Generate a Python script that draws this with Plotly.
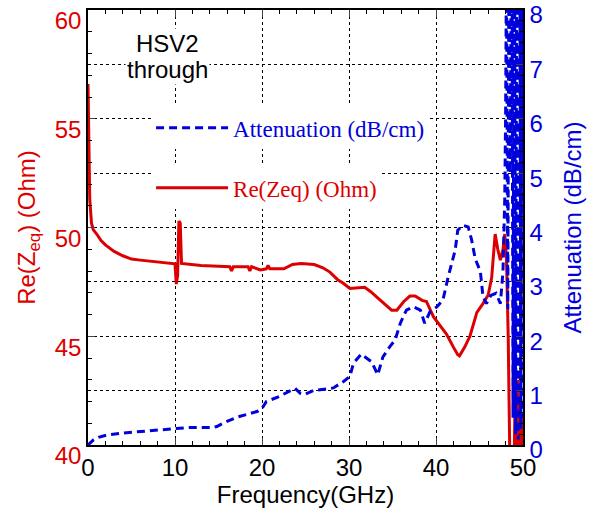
import plotly.graph_objects as go

# ---- data ----
freq_z = [0.0, 0.1, 0.2, 0.4, 0.6, 1.0, 1.5, 2.0, 2.5, 3.0, 4.0, 5.0, 6.0, 7.0, 8.0, 9.0, 10.0,
          10.15, 10.3, 10.45, 10.6, 10.75, 12.0, 13.0, 15.0, 16.3, 16.5, 16.7, 18.4, 18.6, 18.8,
          19.8, 20.5, 20.7, 20.9, 22.5, 23.5, 24.5, 26.0, 27.0, 27.8, 28.7, 29.3, 30.1, 31.8,
          32.5, 33.2, 34.0, 34.9, 35.5, 36.3, 37.0, 37.6, 38.4, 38.9, 39.7, 40.5, 41.2, 42.0,
          42.5, 42.7, 43.3, 43.9, 44.7, 45.4, 46.0, 46.4, 46.8, 47.1, 47.4, 47.7, 47.9, 48.1,
          48.3, 48.5, 48.9, 49.1, 49.25, 49.4, 49.55, 49.7, 49.85, 50.0]
re_zeq = [56.6, 54.0, 51.3, 50.2, 49.9, 49.7, 49.4, 49.2, 49.05, 48.9, 48.7, 48.55, 48.5, 48.45,
          48.4, 48.37, 48.33, 47.4, 47.8, 50.3, 50.2, 48.35, 48.3, 48.25, 48.22, 48.2, 48.0, 48.2,
          48.2, 48.0, 48.2, 48.05, 48.1, 48.25, 48.1, 48.1, 48.3, 48.35, 48.3, 48.15, 47.95, 47.6,
          47.45, 47.2, 47.25, 47.05, 46.8, 46.5, 46.2, 46.2, 46.6, 46.85, 46.85, 46.65, 46.6, 45.9,
          45.5, 45.1, 44.5, 44.15, 44.1, 44.5, 45.0, 46.1, 46.5, 46.9, 47.7, 49.7, 49.0, 48.5,
          49.0, 49.7, 48.6, 45.0, 39.0, 37.0, 42.5, 38.0, 43.0, 37.5, 42.2, 38.0, 41.5]

freq_att = [0.0, 0.3, 0.6, 1.2, 2.1, 4.0, 6.0, 7.9, 10.2, 11.4, 12.9, 14.4, 14.8, 15.9, 17.1,
            18.6, 19.5, 20.0, 20.5, 21.8, 22.8, 23.8, 24.4, 24.9, 25.9, 27.0, 28.2, 29.3, 30.1,
            30.5, 31.4, 32.0, 32.6, 33.3, 33.9, 34.7, 35.3, 35.9, 36.6, 37.4, 38.2, 38.7, 39.3,
            40.1, 40.8, 41.4, 42.2, 42.5, 43.1, 43.7, 44.1, 44.5, 45.1, 45.4, 45.8, 46.3, 46.9,
            47.4, 47.7, 47.9, 48.0, 48.1, 48.25, 48.4, 48.55, 48.7, 48.85, 49.0, 49.15, 49.3,
            49.45, 49.6, 49.75, 49.9, 50.0]
attenuation = [0.0, 0.05, 0.09, 0.14, 0.18, 0.22, 0.25, 0.28, 0.31, 0.32, 0.32, 0.32, 0.34, 0.43,
               0.51, 0.58, 0.62, 0.67, 0.8, 0.88, 0.96, 1.04, 0.95, 0.93, 1.0, 1.03, 1.05, 1.16,
               1.26, 1.5, 1.67, 1.6, 1.53, 1.29, 1.62, 1.81, 1.93, 2.24, 2.48, 2.54, 2.48, 2.24,
               2.45, 2.54, 2.67, 3.09, 3.58, 3.95, 4.04, 4.01, 3.77, 3.43, 3.19, 2.73, 2.6, 2.75,
               2.79, 2.6, 3.2, 4.5, 6.0, 9.0, 2.5, 10.0, 5.0, 12.0, 0.5, 12.0, 0.2, 11.0, 0.1,
               12.0, 0.3, 10.0, 0.5]

x_ticks = [0, 10, 20, 30, 40, 50]
z_ticks = [40, 45, 50, 55, 60]
att_ticks = [0, 1, 2, 3, 4, 5, 6, 7, 8]

RED = "#dd0000"
BLUE = "#0000dd"
FONT = "Liberation Sans, Arial, sans-serif"
SERIF = "Liberation Serif, Times New Roman, serif"

fig = go.Figure()
fig.add_trace(go.Scatter(x=freq_att, y=attenuation, yaxis="y2", mode="lines",
                         name="Attenuation (dB/cm)", showlegend=True,
                         line=dict(color=BLUE, width=3, dash="8px,5px"),
                         legend="legend"))
fig.add_trace(go.Scatter(x=freq_z, y=re_zeq, yaxis="y", mode="lines",
                         name="Re(Zeq) (Ohm)", showlegend=True,
                         line=dict(color=RED, width=3),
                         legend="legend2"))

grid = dict(showgrid=True, gridcolor="black", gridwidth=1, griddash="3px,3px")

fig.update_layout(
    width=598, height=514,
    margin=dict(l=88, r=75, t=10, b=69, autoexpand=False),
    paper_bgcolor="white", plot_bgcolor="white",
    showlegend=True,
    font=dict(family=FONT, size=24, color="black"),
    xaxis=dict(range=[0, 50], tickvals=x_ticks, ticks="inside", ticklen=7, tickwidth=1,
               showline=True, linecolor="black", linewidth=1.5, mirror="ticks",
               zeroline=False, tickfont=dict(size=24, color="black"),
               ticklabeloverflow="allow", automargin=False,
               title=dict(text="Frequency(GHz)", font=dict(size=24), standoff=2),
               minor=dict(dtick=2, ticks="inside", ticklen=4, tickcolor="black", showgrid=False),
               **grid),
    yaxis=dict(range=[40, 60], tickvals=z_ticks, ticks="inside", ticklen=7,
               showline=True, linecolor="black", linewidth=1.5, zeroline=False,
               showgrid=False, tickfont=dict(size=24, color=RED),
               ticklabeloverflow="allow", automargin=False, ticklabelshift=11,
               title=dict(text="Re(Z<sub>eq</sub>) (Ohm)", font=dict(size=24, color=RED), standoff=12),
               minor=dict(dtick=1, ticks="inside", ticklen=4, tickcolor="black", showgrid=False)),
    yaxis2=dict(range=[0, 8], tickvals=att_ticks, overlaying="y", side="right",
                ticks="inside", ticklen=7, showline=True, linecolor="black", linewidth=1.5,
                zeroline=False, tickfont=dict(size=24, color=BLUE),
                ticklabeloverflow="allow", automargin=False, ticklabelshift=5,
                title=dict(text="Attenuation (dB/cm)", font=dict(size=24, color=BLUE), standoff=22),
                minor=dict(dtick=0.2, ticks="inside", ticklen=4, tickcolor="black", showgrid=False),
                **grid),
    legend=dict(x=0.145, y=0.729, xanchor="left", yanchor="middle", bgcolor="white",
                borderwidth=0, itemwidth=72, font=dict(family=SERIF, size=23, color=BLUE)),
    legend2=dict(x=0.145, y=0.591, xanchor="left", yanchor="middle", bgcolor="white",
                 borderwidth=0, itemwidth=72, font=dict(family=SERIF, size=23, color=RED)),
    annotations=[
        dict(text="HSV2", x=(167 - 88) / 435, y=(445 - 43) / 435, xref="paper", yref="paper",
             xanchor="center", yanchor="middle",
             showarrow=False, bgcolor="white", font=dict(size=24, color="black")),
        dict(text="through", x=(167 - 88) / 435, y=(445 - 69) / 435, xref="paper", yref="paper",
             xanchor="center", yanchor="middle",
             showarrow=False, bgcolor="white", font=dict(size=24, color="black")),
    ],
)

fig.write_html("out.html")
